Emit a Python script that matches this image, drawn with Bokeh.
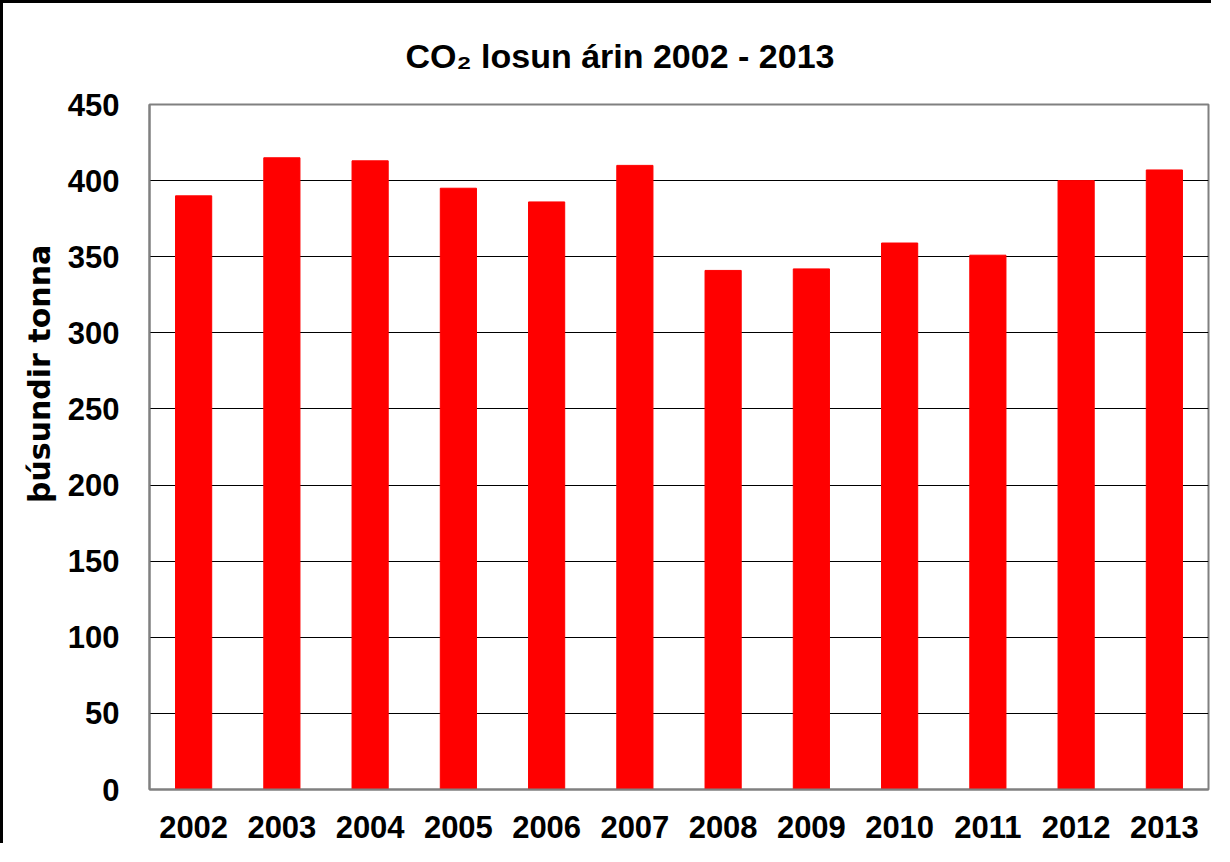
from bokeh.plotting import figure
from bokeh.models import FixedTicker, Range1d
from bokeh.embed import file_html
from bokeh.resources import INLINE

years = ["2002", "2003", "2004", "2005", "2006", "2007",
         "2008", "2009", "2010", "2011", "2012", "2013"]
emissions = [390, 415, 413, 395, 386, 410, 341, 342, 359, 351, 400, 407]
y_ticks = [0, 50, 100, 150, 200, 250, 300, 350, 400, 450]
title_text = "CO\u2082 losun árin 2002 - 2013"
y_label = "þúsundir tonna"

W, H = 1211, 843
p = figure(x_range=years, y_range=Range1d(0, 450), width=W, height=H,
           output_backend="svg", toolbar_location=None,
           min_border_left=146, min_border_right=6,
           min_border_top=101, min_border_bottom=57)
p.styles = {"border-left": "3px solid black", "border-top": "3px solid black"}

p.vbar(x=years, top=emissions, width=0.41, color="#ff0000")

p.xgrid.grid_line_color = None
p.ygrid.grid_line_color = "black"
p.ygrid.grid_line_width = 1.2
p.yaxis.ticker = FixedTicker(ticks=y_ticks)

p.outline_line_color = "#808080"
p.outline_line_width = 2
for ax in (p.xaxis, p.yaxis):
    ax.axis_line_color = "#808080"
    ax.axis_line_width = 2
    ax.major_tick_line_color = None
    ax.minor_tick_line_color = None
    ax.major_label_text_font = "Liberation Sans"
    ax.major_label_text_font_style = "bold"
    ax.major_label_text_font_size = "31px"
    ax.major_label_text_color = "black"
p.xaxis.major_label_standoff = 20
p.yaxis.major_label_standoff = 24

# title
p.title.text = title_text
p.title.align = "left"
p.title.offset = 256
p.title.standoff = 60
p.title.text_font = "Liberation Sans"
p.title.text_font_style = "bold"
p.title.text_font_size = "34px"
p.title.text_color = "black"

# y axis label (shifted upward with leading no-break spaces, as in the reference)
p.yaxis.axis_label = "\u00a0" * 14 + y_label
p.yaxis.axis_label_text_font = "DejaVu Sans"
p.yaxis.axis_label_text_font_style = "bold"
p.yaxis.axis_label_text_font_size = "30px"
p.yaxis.axis_label_text_color = "black"
p.yaxis.axis_label_standoff = 8

open("out.html", "w").write(file_html(p, INLINE))
